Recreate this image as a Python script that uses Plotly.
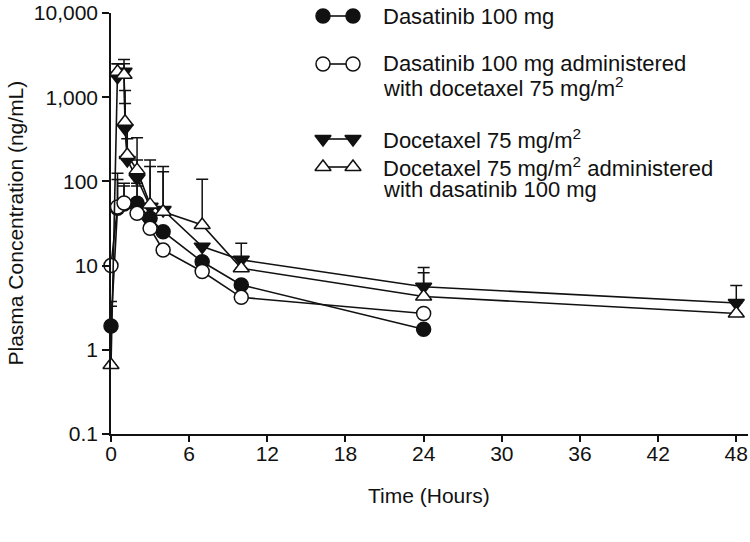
import plotly.graph_objects as go

# ---------------- data ----------------
t_circ = [0, 0.5, 1, 2, 3, 4, 7, 10, 24]
dasat = [1.92, 48, 54, 55, 36.5, 25.3, 11.1, 5.9, 1.75]
dasat_err_top = [3.75, 105, 88, 95, None, None, None, None, None]
dasat_doce = [10, 49.6, 55.4, 41.8, 27.7, 15.3, 8.5, 4.2, 2.7]
dasat_doce_err_top = [None, 125, 95, 88, None, None, None, None, None]

t_tri = [0, 0.5, 1, 1.08, 1.25, 2, 3, 4, 7, 10, 24, 48]
doce = [None, 1750, 2000, 428, 179, 109, 50, 45.7, 16.8, 11.7, 5.6, 3.6]
doce_err_top = [None, 2500, 2800, 1200, 470, 330, 179, 130, None, 18.4, 9.5, 5.8]
doce_dasat = [0.66, 2000, 1850, 512, 206, 136, 53, 43.7, 30.4, 9.3, 4.3, 2.7]
doce_dasat_err_top = [3.3, 2500, 2500, 840, 320, 180, 150, 150, 106, None, 8.2, None]

y_tickvals = [0.1, 1, 10, 100, 1000, 10000]
y_ticktext = ["0.1", "1", "10", "100", "1,000", "10,000"]
x_tickvals = [0, 6, 12, 18, 24, 30, 36, 42, 48]

legend_labels = [
    ["Dasatinib 100 mg"],
    ["Dasatinib 100 mg administered", "with docetaxel 75 mg/m<sup>2</sup>"],
    ["Docetaxel 75 mg/m<sup>2</sup>"],
    ["Docetaxel 75 mg/m<sup>2</sup> administered", "with dasatinib 100 mg"],
]
x_title = "Time (Hours)"
y_title = "Plasma Concentration (ng/mL)"

# ---------------- style ----------------
FONT = "Liberation Sans, Arial, Helvetica, sans-serif"
FS = 21
FS_LEG = 22
FS_TITLE = 21
INK = "#111111"
W, H = 750, 542
L, R, T, B = 111, 2, 13, 108
PW, PH = W - L - R, H - T - B


def px_x(px):
    return (px - L) / PW


def px_y(py):
    return (H - B - py) / PH


styles = [
    dict(symbol="circle", fill=INK, size=14),
    dict(symbol="circle", fill="white", size=14),
    dict(symbol="triangle-down", fill=INK, size=14),
    dict(symbol="triangle-up", fill="white", size=14),
]

series = [
    (t_circ, dasat, dasat_err_top),
    (t_circ, dasat_doce, dasat_doce_err_top),
    (t_tri, doce, doce_err_top),
    (t_tri, doce_dasat, doce_dasat_err_top),
]

fig = go.Figure()

for (xs, ys, tops), st in zip(series, styles):
    xv, yv, plus = [], [], []
    for x, y, tp in zip(xs, ys, tops):
        if y is None:
            continue
        xv.append(x)
        yv.append(y)
        plus.append((tp - y) if tp is not None else 0)
    fig.add_trace(go.Scatter(
        x=xv, y=yv, mode="lines+markers",
        line=dict(color=INK, width=1.6),
        marker=dict(symbol=st["symbol"], size=st["size"], color=st["fill"],
                    line=dict(color=INK, width=1.5)),
        error_y=dict(type="data", symmetric=False, array=plus,
                     arrayminus=[0] * len(plus), color=INK,
                     thickness=1.5, width=6),
        showlegend=False, cliponaxis=False,
    ))

# ---------------- legend (overlay pixel axes) ----------------
leg_rows_y = [16, 64, 139, 167]
leg_line_gap = 23
mk_x = [323, 353]
text_x = 381
for (lbls, st, yy) in zip(legend_labels, styles, leg_rows_y):
    fig.add_trace(go.Scatter(
        x=mk_x, y=[yy, yy], xaxis="x2", yaxis="y2", mode="lines+markers",
        line=dict(color=INK, width=1.6),
        marker=dict(symbol=st["symbol"], size=st["size"], color=st["fill"],
                    line=dict(color=INK, width=1.5)),
        showlegend=False, cliponaxis=False, hoverinfo="skip",
    ))
    for i, txt in enumerate(lbls):
        fig.add_annotation(x=px_x(text_x), y=px_y(yy + i * leg_line_gap),
                           xref="paper", yref="paper",
                           text=txt, showarrow=False, xanchor="left",
                           yanchor="middle",
                           font=dict(family=FONT, size=FS_LEG, color=INK))

fig.add_annotation(x=px_x(429), y=px_y(495), xref="paper", yref="paper",
                   text=x_title, showarrow=False, xanchor="center",
                   yanchor="middle",
                   font=dict(family=FONT, size=FS_TITLE, color=INK))
fig.add_annotation(x=px_x(15), y=px_y((T + H - B) / 2), xref="paper",
                   yref="paper", text=y_title, showarrow=False, textangle=-90,
                   xanchor="center", yanchor="middle",
                   font=dict(family=FONT, size=FS_TITLE, color=INK))

fig.update_layout(
    width=W, height=H,
    margin=dict(l=L, r=R, t=T, b=B),
    paper_bgcolor="white", plot_bgcolor="white",
    font=dict(family=FONT, size=FS, color=INK),
    xaxis=dict(
        range=[0, 48.9], tickvals=x_tickvals, ticks="outside", ticklen=6,
        tickwidth=1.5, tickcolor=INK, showline=True, linecolor=INK,
        linewidth=1.5, showgrid=False, zeroline=False, automargin=False,
        ticklabelstandoff=-6,
        tickfont=dict(family=FONT, size=FS),
    ),
    yaxis=dict(
        type="log", range=[-1, 4], tickvals=y_tickvals, ticktext=y_ticktext,
        ticks="outside", ticklen=7, tickwidth=1.5, tickcolor=INK,
        showline=True, linecolor=INK, linewidth=1.5, showgrid=False,
        zeroline=False, automargin=False,
        tickfont=dict(family=FONT, size=FS),
    ),
    xaxis2=dict(overlaying="x", range=[L, W - R], visible=False,
                anchor="y2", fixedrange=True),
    yaxis2=dict(overlaying="y", range=[H - B, T], visible=False,
                anchor="x2", fixedrange=True),
)

fig.write_html("out.html", config={"displayModeBar": False},
               post_script="document.body.style.margin='0';"
                           "document.body.style.padding='0';")
